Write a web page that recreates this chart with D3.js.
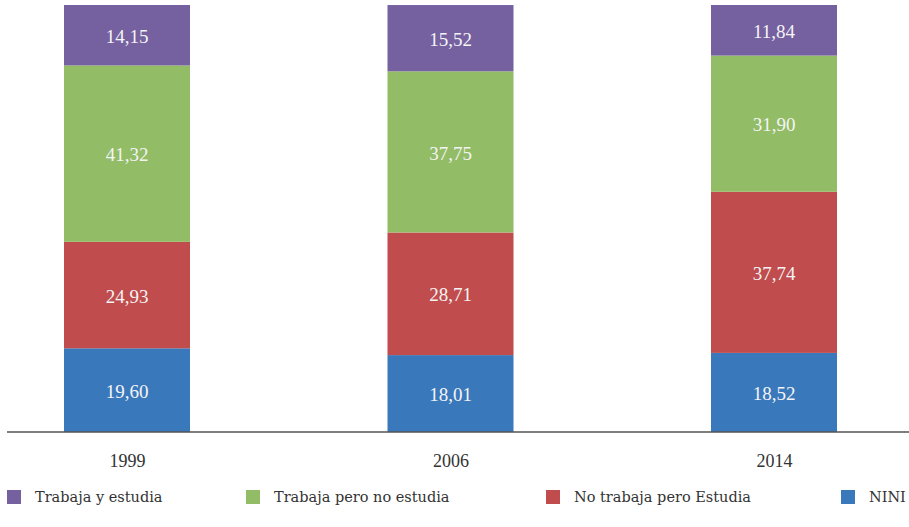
<!DOCTYPE html>
<html>
<head>
<meta charset="utf-8">
<script src="https://cdn.jsdelivr.net/npm/d3@7"></script>
<style>
  body { margin: 0; background: #fff; }
  svg { display: block; }
</style>
</head>
<body>
<svg id="chart" width="909" height="527"></svg>
<script>
// data
const years = ["1999", "2006", "2014"];
const seriesNames = ["NINI", "No trabaja pero Estudia", "Trabaja pero no estudia", "Trabaja y estudia"];
const nini = [19.60, 18.01, 18.52];
const noTrabajaEstudia = [24.93, 28.71, 37.74];
const trabajaNoEstudia = [41.32, 37.75, 31.90];
const trabajaEstudia = [14.15, 15.52, 11.84];
const legendOrder = ["Trabaja y estudia", "Trabaja pero no estudia", "No trabaja pero Estudia", "NINI"];

const colors = {
    "NINI": "#3a78bc",
    "No trabaja pero Estudia": "#c04c4d",
    "Trabaja pero no estudia": "#92bc65",
    "Trabaja y estudia": "#7560a0"
};

const svg = d3.select("#chart"),
    width = +svg.attr("width"),
    height = +svg.attr("height");

// build table for the stack
const table = years.map((y, i) => ({
    year: y,
    "NINI": nini[i],
    "No trabaja pero Estudia": noTrabajaEstudia[i],
    "Trabaja pero no estudia": trabajaNoEstudia[i],
    "Trabaja y estudia": trabajaEstudia[i]
}));

const stacked = d3.stack().keys(seriesNames)(table);

// scales
const x = d3.scalePoint().domain(years).range([127, 774]);
const barWidth = 126;
const y = d3.scaleLinear().domain([0, 100]).range([432, 5]);

const fmt = v => d3.format(".2f")(v).replace(".", ",");

// bars
const layers = svg.append("g")
    .selectAll("g")
    .data(stacked)
    .enter().append("g")
    .attr("fill", d => colors[d.key]);

layers.selectAll("rect")
    .data(d => d)
    .enter().append("rect")
    .attr("x", d => x(d.data.year) - barWidth / 2)
    .attr("y", d => y(d[1]))
    .attr("width", barWidth)
    .attr("height", d => y(d[0]) - y(d[1]));

// value labels
layers.selectAll("text")
    .data(d => d.map(v => Object.assign({}, v, { key: d.key })))
    .enter().append("text")
    .attr("x", d => x(d.data.year))
    .attr("y", d => (y(d[0]) + y(d[1])) / 2 + 1)
    .attr("dy", "0.35em")
    .attr("text-anchor", "middle")
    .attr("font-family", "'Liberation Serif', serif")
    .attr("font-size", 19)
    .attr("fill", "#f4f4f4")
    .text(d => fmt(d.data[d.key]));

// x axis
const axis = svg.append("g")
    .attr("transform", "translate(0,432)")
    .call(d3.axisBottom(x).tickSize(0).tickPadding(22));
axis.select(".domain").remove();
axis.append("line")
    .attr("x1", 7).attr("x2", width)
    .attr("y1", 0).attr("y2", 0)
    .attr("stroke", "#555")
    .attr("stroke-width", 1.6);
axis.selectAll(".tick text")
    .attr("font-family", "'Liberation Serif', serif")
    .attr("font-size", 18)
    .attr("fill", "#333");

// legend
const legendX = [7, 246, 546, 841];
const legend = svg.append("g")
    .selectAll("g")
    .data(legendOrder)
    .enter().append("g")
    .attr("transform", (d, i) => `translate(${legendX[i]},490)`);

legend.append("rect")
    .attr("width", 14)
    .attr("height", 14)
    .attr("fill", d => colors[d]);

legend.append("text")
    .attr("x", 28)
    .attr("y", 12)
    .attr("font-family", "'DejaVu Serif', serif")
    .attr("font-size", 14.5)
    .attr("fill", "#333")
    .text(d => d);
</script>
</body>
</html>
